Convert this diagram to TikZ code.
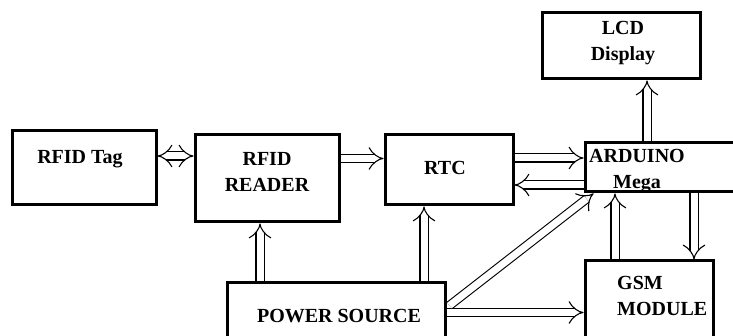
\documentclass[tikz,border=0pt]{standalone}
\usepackage{fontspec}
\setmainfont{Liberation Serif}
\usetikzlibrary{arrows.meta}
\tikzset{
	blk/.style={draw,line width=3pt,inner sep=0pt},
	txt/.style={font=\fontsize{20}{26}\selectfont\bfseries,align=center,inner sep=0pt},
	link/.style={double,double distance=7pt,line width=1.1pt,-{Implies}},
	linkboth/.style={double,double distance=7pt,line width=1.1pt,{Implies}-{Implies}}
}

\begin{document}
\begin{tikzpicture}[x=1pt,y=-1pt]
	
	\path[use as bounding box] (0,0) rectangle (733,336);
	\clip (0,0) rectangle (733,336);
	
	% -------------------------------------------------
	% 1. Blocks
	% -------------------------------------------------
	\node[blk,minimum width=144pt,minimum height=74pt] (tag) at (84,168) {};
	\node[blk,minimum width=144pt,minimum height=87pt] (reader) at (267,178.5) {};
	\node[blk,minimum width=128pt,minimum height=70pt] (rtc) at (449,170) {};
	\node[blk,minimum width=165pt,minimum height=49pt] (arduino) at (667.5,167.5) {};
	\node[blk,minimum width=158pt,minimum height=66pt] (lcd) at (621,46) {};
	\node[blk,minimum width=128pt,minimum height=89pt] (gsm) at (649,305.5) {};
	\node[blk,minimum width=218pt,minimum height=67pt] (power) at (336,316.5) {};
	
	% -------------------------------------------------
	% 2. Block texts
	% -------------------------------------------------
	\node[txt] (tagtext) at (80,159) {RFID Tag};
	\node[txt] (readertext) at (267,172) {RFID\\READER};
	\node[txt] (rtctext) at (445,168) {RTC};
	\node[txt] (arduinotext) at (637,171) {ARDUINO\\Mega};
	\node[txt] (lcdtext) at (623,43) {LCD\\Display};
	\node[txt,align=left,anchor=west] (gsmtext) at (617,296) {GSM\\MODULE};
	\node[txt] (powertext) at (339,316) {POWER SOURCE};
	
	% -------------------------------------------------
	% 3. Connectors
	% -------------------------------------------------
	\coordinate (t1) at ([yshift=12pt]tag.east);
	\draw[linkboth] (t1) -- (t1 -| reader.west);
	
	\coordinate (r1) at ([yshift=20pt]reader.east);
	\draw[link] (r1) -- (r1 -| rtc.west);
	
	% RTC <-> ARDUINO
	\coordinate (c1) at ([yshift=12pt]rtc.east);
	\draw[link] (c1) -- (c1 -| arduino.west);
	\coordinate (c2) at ([yshift=-15pt]rtc.east);
	\draw[link] (c2 -| arduino.west) -- (c2);
	
	% ARDUINO to LCD
	\coordinate (l1) at ([xshift=26pt]lcd.south);
	\draw[link] (l1 |- arduino.north) -- (l1);
	
	% ARDUINO <-> GSM
	\coordinate (g1) at ([xshift=-34pt]gsm.north);
	\draw[link] (g1) -- (g1 |- arduino.south);
	\coordinate (g2) at ([xshift=45pt]gsm.north);
	\draw[link] (g2 |- arduino.south) -- (g2);
	
	% power lines
	\coordinate (p1) at ([xshift=-7pt]reader.south);
	\draw[link] (p1 |- power.north) -- (p1);
	\coordinate (p2) at ([xshift=-25pt]rtc.south);
	\draw[link] (p2 |- power.north) -- (p2);
	\coordinate (p3) at ([yshift=4pt]power.east);
	\draw[link] (p3) -- (p3 -| gsm.west);
	\coordinate (p4) at ([xshift=3pt,yshift=-24pt]power.north east);
	\coordinate (a4) at ([xshift=10pt]arduino.south west);
	\draw[link] (p4) -- (a4);
	
\end{tikzpicture}
\end{document}
